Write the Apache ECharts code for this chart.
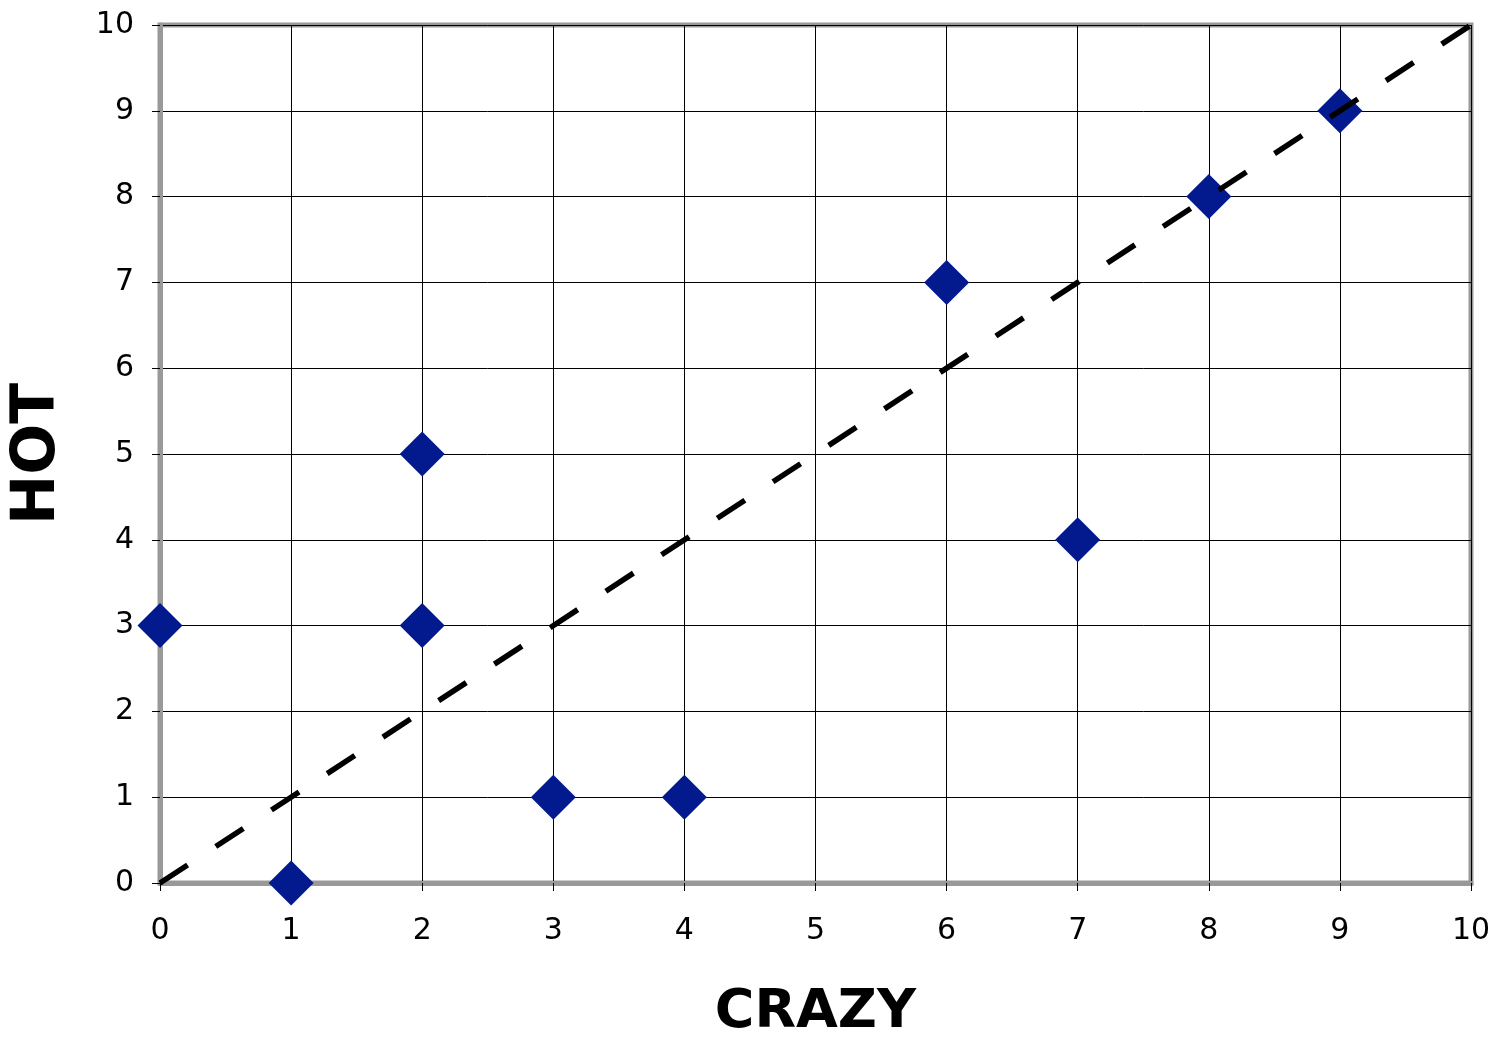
<!DOCTYPE html>
<html>
<head>
<meta charset="utf-8">
<script src="https://cdn.jsdelivr.net/npm/echarts@6/dist/echarts.min.js"></script>
<style>
	html,body{margin:0;padding:0;background:#fff;}
	#hotcrazy{width:1499px;height:1044px;}
</style>
</head>
<body>
<div id="hotcrazy"></div>
<script>
	// data
	var crazyVals = [0, 1, 2, 2, 3, 4, 6, 7, 8, 9];
	var hotVals = [3, 0, 5, 3, 1, 1, 7, 4, 8, 9];
	var lineX = [0, 10];
	var lineY = [0, 10];

	var pts = [];
	for (var i = 0; i < crazyVals.length; i++) {
		pts.push([crazyVals[i], hotVals[i]]);
	}
	var linePts = [];
	for (var j = 0; j < lineX.length; j++) {
		linePts.push([lineX[j], lineY[j]]);
	}

	var axisCommon = {
		type: 'value',
		min: 0,
		max: 10,
		interval: 1,
		axisLine: {show: true, onZero: false, lineStyle: {color: '#999999', width: 5}},
		axisTick: {show: true, length: 8, lineStyle: {color: '#000', width: 1}},
		splitLine: {show: true, lineStyle: {color: '#000', width: 1}}
	};

	var myhcchart = echarts.init(document.getElementById('hotcrazy'));
	myhcchart.setOption({
		animation: false,
		grid: {
			left: 160, right: 28, top: 25, bottom: 161,
			show: true, borderColor: '#999999', borderWidth: 5,
			containLabel: false,
			outerBoundsMode: 'none'
		},
		xAxis: Object.assign({}, axisCommon, {
			name: 'CRAZY',
			nameLocation: 'middle',
			nameGap: 103,
			nameTextStyle: {fontFamily: 'DejaVu Sans', fontWeight: 'bold', fontSize: 54, color: '#000'},
			axisLabel: {margin: 33, fontFamily: 'DejaVu Sans', fontSize: 30, color: '#000'}
		}),
		yAxis: Object.assign({}, axisCommon, {
			name: 'HOT',
			nameLocation: 'middle',
			nameGap: 92,
			nameRotate: 90,
			nameTextStyle: {fontFamily: 'DejaVu Sans', fontWeight: 'bold', fontSize: 60, color: '#000'},
			axisLabel: {margin: 26, fontFamily: 'DejaVu Sans', fontSize: 30, color: '#000'}
		}),
		series: [
			{
				type: 'scatter',
				data: pts,
				symbol: 'diamond',
				symbolSize: [45, 45],
				clip: false,
				z: 4,
				itemStyle: {color: '#031a8f', opacity: 1}
			},
			{
				type: 'line',
				data: linePts,
				symbol: 'none',
				clip: false,
				z: 5,
				lineStyle: {color: '#000', width: 5.5, type: [33, 33.6]}
			}
		]
	});
</script>
</body>
</html>
